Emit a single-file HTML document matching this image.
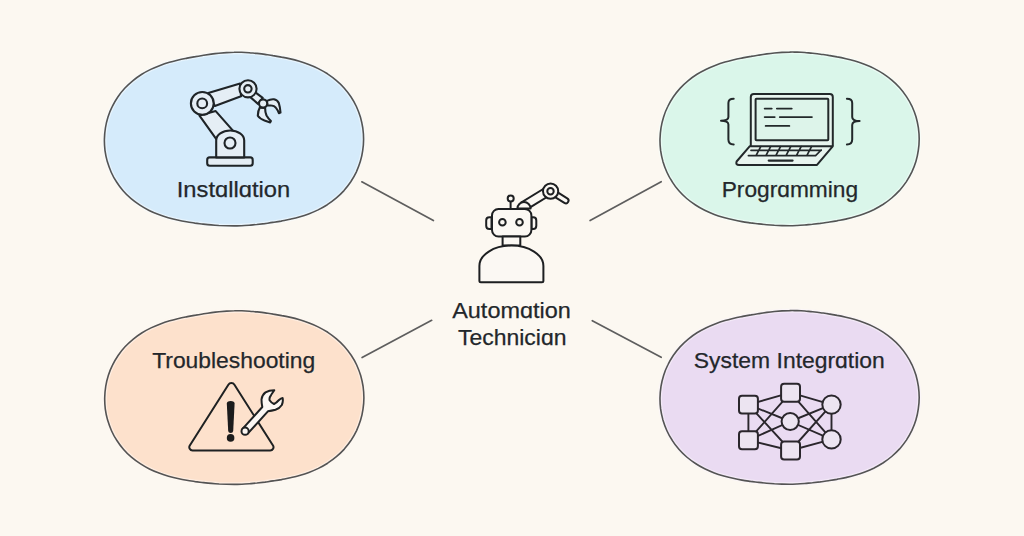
<!DOCTYPE html>
<html><head><meta charset="utf-8"><style>
html,body{margin:0;padding:0;background:#fcf8f1;}
body{width:1024px;height:536px;overflow:hidden;}
svg{display:block;}
text{font-family:"Liberation Sans",sans-serif;fill:#23272b;stroke:#23272b;stroke-width:0.25px;}
</style></head><body>
<svg width="1024" height="536" viewBox="0 0 1024 536">
<rect width="1024" height="536" fill="#fcf8f1"/>
<g stroke="#5e5e5e" stroke-width="1.7" stroke-linecap="round">
<line x1="361.8" y1="181.8" x2="433.4" y2="220.5"/>
<line x1="590.1" y1="220.6" x2="661.2" y2="181.7"/>
<line x1="362.1" y1="357.6" x2="431.7" y2="320.3"/>
<line x1="592.3" y1="320.7" x2="661.2" y2="357.3"/>
</g>
<path d="M104.4,139.3 C104.5,135.5 104.8,131.8 105.4,128.0 C106.0,124.3 106.9,120.6 108.0,117.1 C109.1,113.5 110.5,110.0 112.2,106.7 C113.8,103.3 115.7,100.1 117.8,97.0 C119.9,93.9 122.2,91.0 124.7,88.3 C127.2,85.6 129.9,83.1 132.7,80.8 C135.5,78.5 138.4,76.4 141.4,74.5 C144.4,72.6 147.6,70.9 150.7,69.4 C153.8,67.9 157.0,66.6 160.1,65.4 C163.2,64.2 166.3,63.2 169.4,62.3 C172.5,61.4 175.5,60.7 178.4,60.0 C181.4,59.3 184.3,58.7 187.1,58.1 C189.9,57.5 192.7,57.0 195.4,56.6 C198.1,56.1 200.8,55.7 203.4,55.3 C206.0,54.9 208.6,54.5 211.2,54.1 C213.7,53.8 216.3,53.5 218.8,53.2 C221.4,53.0 223.9,52.8 226.4,52.6 C228.9,52.4 231.5,52.3 234.0,52.3 C236.5,52.2 239.1,52.3 241.6,52.3 C244.2,52.4 246.7,52.6 249.3,52.7 C251.8,52.9 254.4,53.2 257.0,53.4 C259.6,53.7 262.2,54.0 264.9,54.4 C267.6,54.8 270.3,55.1 273.0,55.6 C275.8,56.0 278.6,56.5 281.5,57.1 C284.4,57.6 287.3,58.2 290.3,58.9 C293.3,59.6 296.3,60.4 299.4,61.3 C302.5,62.2 305.7,63.3 308.8,64.5 C312.0,65.7 315.2,67.0 318.3,68.6 C321.4,70.2 324.5,71.9 327.5,73.8 C330.5,75.8 333.4,77.9 336.2,80.3 C339.0,82.6 341.7,85.2 344.1,88.0 C346.5,90.7 348.8,93.7 350.9,96.8 C352.9,99.8 354.8,103.1 356.4,106.5 C357.9,109.9 359.3,113.4 360.4,117.0 C361.4,120.6 362.2,124.3 362.8,128.0 C363.3,131.7 363.6,135.5 363.6,139.3 C363.6,143.1 363.3,146.9 362.7,150.6 C362.2,154.3 361.4,158.0 360.3,161.6 C359.2,165.2 357.8,168.7 356.3,172.1 C354.7,175.4 352.8,178.7 350.8,181.8 C348.7,184.9 346.4,187.8 344.0,190.6 C341.5,193.3 338.8,195.9 336.1,198.2 C333.3,200.6 330.3,202.7 327.3,204.7 C324.3,206.6 321.2,208.3 318.1,209.9 C315.0,211.4 311.8,212.7 308.6,213.9 C305.5,215.1 302.3,216.1 299.2,217.0 C296.1,217.9 293.0,218.6 290.0,219.3 C287.0,220.0 284.1,220.5 281.2,221.1 C278.3,221.6 275.5,222.0 272.8,222.4 C270.0,222.9 267.3,223.2 264.7,223.6 C262.0,223.9 259.4,224.2 256.8,224.5 C254.2,224.7 251.7,225.0 249.1,225.2 C246.6,225.4 244.1,225.6 241.6,225.7 C239.0,225.8 236.5,225.9 234.0,225.9 C231.5,225.9 229.0,225.9 226.4,225.8 C223.9,225.7 221.4,225.6 218.8,225.5 C216.2,225.3 213.7,225.1 211.1,224.9 C208.5,224.7 205.8,224.4 203.1,224.1 C200.5,223.8 197.7,223.4 194.9,223.1 C192.2,222.7 189.3,222.3 186.4,221.8 C183.5,221.3 180.5,220.7 177.5,220.0 C174.4,219.4 171.3,218.6 168.2,217.7 C165.1,216.8 161.8,215.8 158.7,214.6 C155.5,213.4 152.3,212.1 149.1,210.5 C146.0,208.9 142.9,207.2 139.9,205.2 C136.9,203.2 133.9,201.1 131.1,198.7 C128.4,196.3 125.7,193.7 123.3,190.9 C120.9,188.2 118.6,185.2 116.6,182.0 C114.5,178.9 112.7,175.6 111.2,172.2 C109.7,168.8 108.4,165.2 107.3,161.6 C106.3,158.0 105.5,154.3 105.0,150.6 C104.6,146.9 104.3,143.1 104.4,139.3Z" fill="#d5ebfb" stroke="#f6fbff" stroke-width="4.2" stroke-opacity="0.55"/>
<path d="M660.0,139.1 C660.1,135.3 660.4,131.6 661.0,127.8 C661.6,124.1 662.5,120.4 663.6,116.9 C664.7,113.3 666.1,109.8 667.8,106.5 C669.4,103.1 671.3,99.9 673.4,96.8 C675.5,93.7 677.8,90.8 680.3,88.1 C682.8,85.4 685.5,82.9 688.3,80.6 C691.1,78.3 694.0,76.2 697.0,74.3 C700.0,72.4 703.2,70.7 706.3,69.2 C709.4,67.7 712.6,66.4 715.7,65.2 C718.8,64.0 721.9,63.0 725.0,62.1 C728.1,61.2 731.1,60.5 734.0,59.8 C737.0,59.1 739.9,58.5 742.7,57.9 C745.5,57.3 748.3,56.8 751.0,56.4 C753.7,55.9 756.4,55.5 759.0,55.1 C761.6,54.7 764.2,54.3 766.8,53.9 C769.3,53.6 771.9,53.3 774.4,53.0 C777.0,52.8 779.5,52.6 782.0,52.4 C784.5,52.2 787.1,52.1 789.6,52.1 C792.1,52.0 794.7,52.1 797.2,52.1 C799.8,52.2 802.3,52.4 804.9,52.5 C807.4,52.7 810.0,53.0 812.6,53.2 C815.2,53.5 817.8,53.8 820.5,54.2 C823.2,54.6 825.9,54.9 828.6,55.4 C831.4,55.8 834.2,56.3 837.1,56.9 C840.0,57.4 842.9,58.0 845.9,58.7 C848.9,59.4 851.9,60.2 855.0,61.1 C858.1,62.0 861.3,63.1 864.4,64.3 C867.6,65.5 870.8,66.8 873.9,68.4 C877.0,70.0 880.1,71.7 883.1,73.6 C886.1,75.6 889.0,77.7 891.8,80.1 C894.6,82.4 897.3,85.0 899.7,87.8 C902.1,90.5 904.4,93.5 906.5,96.6 C908.5,99.6 910.4,102.9 912.0,106.3 C913.5,109.7 914.9,113.2 916.0,116.8 C917.0,120.4 917.8,124.1 918.4,127.8 C918.9,131.5 919.2,135.3 919.2,139.1 C919.2,142.9 918.9,146.7 918.3,150.4 C917.8,154.1 917.0,157.8 915.9,161.4 C914.8,165.0 913.4,168.5 911.9,171.9 C910.3,175.2 908.4,178.5 906.4,181.6 C904.3,184.7 902.0,187.6 899.6,190.4 C897.1,193.1 894.4,195.7 891.7,198.0 C888.9,200.4 885.9,202.5 882.9,204.5 C879.9,206.4 876.8,208.1 873.7,209.7 C870.6,211.2 867.4,212.5 864.2,213.7 C861.1,214.9 857.9,215.9 854.8,216.8 C851.7,217.7 848.6,218.4 845.6,219.1 C842.6,219.8 839.7,220.3 836.8,220.9 C833.9,221.4 831.1,221.8 828.4,222.2 C825.6,222.7 822.9,223.0 820.3,223.4 C817.6,223.7 815.0,224.0 812.4,224.3 C809.8,224.5 807.3,224.8 804.7,225.0 C802.2,225.2 799.7,225.4 797.2,225.5 C794.6,225.6 792.1,225.7 789.6,225.7 C787.1,225.7 784.6,225.7 782.0,225.6 C779.5,225.5 777.0,225.4 774.4,225.3 C771.8,225.1 769.3,224.9 766.7,224.7 C764.1,224.5 761.4,224.2 758.7,223.9 C756.1,223.6 753.3,223.2 750.5,222.9 C747.8,222.5 744.9,222.1 742.0,221.6 C739.1,221.1 736.1,220.5 733.1,219.8 C730.0,219.2 726.9,218.4 723.8,217.5 C720.7,216.6 717.4,215.6 714.3,214.4 C711.1,213.2 707.9,211.9 704.7,210.3 C701.6,208.7 698.5,207.0 695.5,205.0 C692.5,203.0 689.5,200.9 686.7,198.5 C684.0,196.1 681.3,193.5 678.9,190.7 C676.5,188.0 674.2,185.0 672.2,181.8 C670.1,178.7 668.3,175.4 666.8,172.0 C665.3,168.6 664.0,165.0 662.9,161.4 C661.9,157.8 661.1,154.1 660.6,150.4 C660.2,146.7 659.9,142.9 660.0,139.1Z" fill="#daf6ea" stroke="#f6fffb" stroke-width="4.2" stroke-opacity="0.55"/>
<path d="M104.7,397.8 C104.8,394.0 105.1,390.3 105.7,386.5 C106.3,382.8 107.2,379.1 108.3,375.6 C109.4,372.0 110.8,368.5 112.5,365.2 C114.1,361.8 116.0,358.6 118.1,355.5 C120.2,352.4 122.5,349.5 125.0,346.8 C127.5,344.1 130.2,341.6 133.0,339.3 C135.8,337.0 138.7,334.9 141.7,333.0 C144.7,331.1 147.9,329.4 151.0,327.9 C154.1,326.4 157.3,325.1 160.4,323.9 C163.5,322.7 166.6,321.7 169.7,320.8 C172.8,319.9 175.8,319.2 178.7,318.5 C181.7,317.8 184.6,317.2 187.4,316.6 C190.2,316.0 193.0,315.5 195.7,315.1 C198.4,314.6 201.1,314.2 203.7,313.8 C206.3,313.4 208.9,313.0 211.5,312.6 C214.0,312.3 216.6,312.0 219.1,311.7 C221.7,311.5 224.2,311.3 226.7,311.1 C229.2,310.9 231.8,310.8 234.3,310.8 C236.8,310.7 239.4,310.8 241.9,310.8 C244.5,310.9 247.0,311.1 249.6,311.2 C252.1,311.4 254.7,311.7 257.3,311.9 C259.9,312.2 262.5,312.5 265.2,312.9 C267.9,313.3 270.6,313.6 273.3,314.1 C276.1,314.5 278.9,315.0 281.8,315.6 C284.7,316.1 287.6,316.7 290.6,317.4 C293.6,318.1 296.6,318.9 299.7,319.8 C302.8,320.7 306.0,321.8 309.1,323.0 C312.3,324.2 315.5,325.5 318.6,327.1 C321.7,328.7 324.8,330.4 327.8,332.3 C330.8,334.3 333.7,336.4 336.5,338.8 C339.3,341.1 342.0,343.7 344.4,346.5 C346.8,349.2 349.1,352.2 351.2,355.3 C353.2,358.3 355.1,361.6 356.7,365.0 C358.2,368.4 359.6,371.9 360.7,375.5 C361.7,379.1 362.5,382.8 363.1,386.5 C363.6,390.2 363.9,394.0 363.9,397.8 C363.9,401.6 363.6,405.4 363.0,409.1 C362.5,412.8 361.7,416.5 360.6,420.1 C359.5,423.7 358.1,427.2 356.6,430.6 C355.0,433.9 353.1,437.2 351.1,440.3 C349.0,443.4 346.7,446.3 344.3,449.1 C341.8,451.8 339.1,454.4 336.4,456.7 C333.6,459.1 330.6,461.2 327.6,463.2 C324.6,465.1 321.5,466.8 318.4,468.4 C315.3,469.9 312.1,471.2 308.9,472.4 C305.8,473.6 302.6,474.6 299.5,475.5 C296.4,476.4 293.3,477.1 290.3,477.8 C287.3,478.5 284.4,479.0 281.5,479.6 C278.6,480.1 275.8,480.5 273.1,480.9 C270.3,481.4 267.6,481.7 265.0,482.1 C262.3,482.4 259.7,482.7 257.1,483.0 C254.5,483.2 252.0,483.5 249.4,483.7 C246.9,483.9 244.4,484.1 241.9,484.2 C239.3,484.3 236.8,484.4 234.3,484.4 C231.8,484.4 229.3,484.4 226.7,484.3 C224.2,484.2 221.7,484.1 219.1,484.0 C216.5,483.8 214.0,483.6 211.4,483.4 C208.8,483.2 206.1,482.9 203.4,482.6 C200.8,482.3 198.0,481.9 195.2,481.6 C192.5,481.2 189.6,480.8 186.7,480.3 C183.8,479.8 180.8,479.2 177.8,478.5 C174.7,477.9 171.6,477.1 168.5,476.2 C165.4,475.3 162.1,474.3 159.0,473.1 C155.8,471.9 152.6,470.6 149.4,469.0 C146.3,467.4 143.2,465.7 140.2,463.7 C137.2,461.7 134.2,459.6 131.4,457.2 C128.7,454.8 126.0,452.2 123.6,449.4 C121.2,446.7 118.9,443.7 116.9,440.5 C114.8,437.4 113.0,434.1 111.5,430.7 C110.0,427.3 108.7,423.7 107.6,420.1 C106.6,416.5 105.8,412.8 105.3,409.1 C104.9,405.4 104.6,401.6 104.7,397.8Z" fill="#fde1cc" stroke="#fff8f2" stroke-width="4.2" stroke-opacity="0.55"/>
<path d="M660.0,397.6 C660.1,393.8 660.4,390.1 661.0,386.3 C661.6,382.6 662.5,378.9 663.6,375.4 C664.7,371.8 666.1,368.3 667.8,365.0 C669.4,361.6 671.3,358.4 673.4,355.3 C675.5,352.2 677.8,349.3 680.3,346.6 C682.8,343.9 685.5,341.4 688.3,339.1 C691.1,336.8 694.0,334.7 697.0,332.8 C700.0,330.9 703.2,329.2 706.3,327.7 C709.4,326.2 712.6,324.9 715.7,323.7 C718.8,322.5 721.9,321.5 725.0,320.6 C728.1,319.7 731.1,319.0 734.0,318.3 C737.0,317.6 739.9,317.0 742.7,316.4 C745.5,315.8 748.3,315.3 751.0,314.9 C753.7,314.4 756.4,314.0 759.0,313.6 C761.6,313.2 764.2,312.8 766.8,312.4 C769.3,312.1 771.9,311.8 774.4,311.5 C777.0,311.3 779.5,311.1 782.0,310.9 C784.5,310.7 787.1,310.6 789.6,310.6 C792.1,310.5 794.7,310.6 797.2,310.6 C799.8,310.7 802.3,310.9 804.9,311.0 C807.4,311.2 810.0,311.5 812.6,311.7 C815.2,312.0 817.8,312.3 820.5,312.7 C823.2,313.1 825.9,313.4 828.6,313.9 C831.4,314.3 834.2,314.8 837.1,315.4 C840.0,315.9 842.9,316.5 845.9,317.2 C848.9,317.9 851.9,318.7 855.0,319.6 C858.1,320.5 861.3,321.6 864.4,322.8 C867.6,324.0 870.8,325.3 873.9,326.9 C877.0,328.5 880.1,330.2 883.1,332.1 C886.1,334.1 889.0,336.2 891.8,338.6 C894.6,340.9 897.3,343.5 899.7,346.3 C902.1,349.0 904.4,352.0 906.5,355.1 C908.5,358.1 910.4,361.4 912.0,364.8 C913.5,368.2 914.9,371.7 916.0,375.3 C917.0,378.9 917.8,382.6 918.4,386.3 C918.9,390.0 919.2,393.8 919.2,397.6 C919.2,401.4 918.9,405.2 918.3,408.9 C917.8,412.6 917.0,416.3 915.9,419.9 C914.8,423.5 913.4,427.0 911.9,430.4 C910.3,433.7 908.4,437.0 906.4,440.1 C904.3,443.2 902.0,446.1 899.6,448.9 C897.1,451.6 894.4,454.2 891.7,456.5 C888.9,458.9 885.9,461.0 882.9,463.0 C879.9,464.9 876.8,466.6 873.7,468.2 C870.6,469.7 867.4,471.0 864.2,472.2 C861.1,473.4 857.9,474.4 854.8,475.3 C851.7,476.2 848.6,476.9 845.6,477.6 C842.6,478.3 839.7,478.8 836.8,479.4 C833.9,479.9 831.1,480.3 828.4,480.7 C825.6,481.2 822.9,481.5 820.3,481.9 C817.6,482.2 815.0,482.5 812.4,482.8 C809.8,483.0 807.3,483.3 804.7,483.5 C802.2,483.7 799.7,483.9 797.2,484.0 C794.6,484.1 792.1,484.2 789.6,484.2 C787.1,484.2 784.6,484.2 782.0,484.1 C779.5,484.0 777.0,483.9 774.4,483.8 C771.8,483.6 769.3,483.4 766.7,483.2 C764.1,483.0 761.4,482.7 758.7,482.4 C756.1,482.1 753.3,481.7 750.5,481.4 C747.8,481.0 744.9,480.6 742.0,480.1 C739.1,479.6 736.1,479.0 733.1,478.3 C730.0,477.7 726.9,476.9 723.8,476.0 C720.7,475.1 717.4,474.1 714.3,472.9 C711.1,471.7 707.9,470.4 704.7,468.8 C701.6,467.2 698.5,465.5 695.5,463.5 C692.5,461.5 689.5,459.4 686.7,457.0 C684.0,454.6 681.3,452.0 678.9,449.2 C676.5,446.5 674.2,443.5 672.2,440.3 C670.1,437.2 668.3,433.9 666.8,430.5 C665.3,427.1 664.0,423.5 662.9,419.9 C661.9,416.3 661.1,412.6 660.6,408.9 C660.2,405.2 659.9,401.4 660.0,397.6Z" fill="#eadbf2" stroke="#faf4fc" stroke-width="4.2" stroke-opacity="0.55"/>
<g stroke="#545454" stroke-width="1.6" fill="none">
<path d="M104.4,139.3 C104.5,135.5 104.8,131.8 105.4,128.0 C106.0,124.3 106.9,120.6 108.0,117.1 C109.1,113.5 110.5,110.0 112.2,106.7 C113.8,103.3 115.7,100.1 117.8,97.0 C119.9,93.9 122.2,91.0 124.7,88.3 C127.2,85.6 129.9,83.1 132.7,80.8 C135.5,78.5 138.4,76.4 141.4,74.5 C144.4,72.6 147.6,70.9 150.7,69.4 C153.8,67.9 157.0,66.6 160.1,65.4 C163.2,64.2 166.3,63.2 169.4,62.3 C172.5,61.4 175.5,60.7 178.4,60.0 C181.4,59.3 184.3,58.7 187.1,58.1 C189.9,57.5 192.7,57.0 195.4,56.6 C198.1,56.1 200.8,55.7 203.4,55.3 C206.0,54.9 208.6,54.5 211.2,54.1 C213.7,53.8 216.3,53.5 218.8,53.2 C221.4,53.0 223.9,52.8 226.4,52.6 C228.9,52.4 231.5,52.3 234.0,52.3 C236.5,52.2 239.1,52.3 241.6,52.3 C244.2,52.4 246.7,52.6 249.3,52.7 C251.8,52.9 254.4,53.2 257.0,53.4 C259.6,53.7 262.2,54.0 264.9,54.4 C267.6,54.8 270.3,55.1 273.0,55.6 C275.8,56.0 278.6,56.5 281.5,57.1 C284.4,57.6 287.3,58.2 290.3,58.9 C293.3,59.6 296.3,60.4 299.4,61.3 C302.5,62.2 305.7,63.3 308.8,64.5 C312.0,65.7 315.2,67.0 318.3,68.6 C321.4,70.2 324.5,71.9 327.5,73.8 C330.5,75.8 333.4,77.9 336.2,80.3 C339.0,82.6 341.7,85.2 344.1,88.0 C346.5,90.7 348.8,93.7 350.9,96.8 C352.9,99.8 354.8,103.1 356.4,106.5 C357.9,109.9 359.3,113.4 360.4,117.0 C361.4,120.6 362.2,124.3 362.8,128.0 C363.3,131.7 363.6,135.5 363.6,139.3 C363.6,143.1 363.3,146.9 362.7,150.6 C362.2,154.3 361.4,158.0 360.3,161.6 C359.2,165.2 357.8,168.7 356.3,172.1 C354.7,175.4 352.8,178.7 350.8,181.8 C348.7,184.9 346.4,187.8 344.0,190.6 C341.5,193.3 338.8,195.9 336.1,198.2 C333.3,200.6 330.3,202.7 327.3,204.7 C324.3,206.6 321.2,208.3 318.1,209.9 C315.0,211.4 311.8,212.7 308.6,213.9 C305.5,215.1 302.3,216.1 299.2,217.0 C296.1,217.9 293.0,218.6 290.0,219.3 C287.0,220.0 284.1,220.5 281.2,221.1 C278.3,221.6 275.5,222.0 272.8,222.4 C270.0,222.9 267.3,223.2 264.7,223.6 C262.0,223.9 259.4,224.2 256.8,224.5 C254.2,224.7 251.7,225.0 249.1,225.2 C246.6,225.4 244.1,225.6 241.6,225.7 C239.0,225.8 236.5,225.9 234.0,225.9 C231.5,225.9 229.0,225.9 226.4,225.8 C223.9,225.7 221.4,225.6 218.8,225.5 C216.2,225.3 213.7,225.1 211.1,224.9 C208.5,224.7 205.8,224.4 203.1,224.1 C200.5,223.8 197.7,223.4 194.9,223.1 C192.2,222.7 189.3,222.3 186.4,221.8 C183.5,221.3 180.5,220.7 177.5,220.0 C174.4,219.4 171.3,218.6 168.2,217.7 C165.1,216.8 161.8,215.8 158.7,214.6 C155.5,213.4 152.3,212.1 149.1,210.5 C146.0,208.9 142.9,207.2 139.9,205.2 C136.9,203.2 133.9,201.1 131.1,198.7 C128.4,196.3 125.7,193.7 123.3,190.9 C120.9,188.2 118.6,185.2 116.6,182.0 C114.5,178.9 112.7,175.6 111.2,172.2 C109.7,168.8 108.4,165.2 107.3,161.6 C106.3,158.0 105.5,154.3 105.0,150.6 C104.6,146.9 104.3,143.1 104.4,139.3Z"/>
<path d="M660.0,139.1 C660.1,135.3 660.4,131.6 661.0,127.8 C661.6,124.1 662.5,120.4 663.6,116.9 C664.7,113.3 666.1,109.8 667.8,106.5 C669.4,103.1 671.3,99.9 673.4,96.8 C675.5,93.7 677.8,90.8 680.3,88.1 C682.8,85.4 685.5,82.9 688.3,80.6 C691.1,78.3 694.0,76.2 697.0,74.3 C700.0,72.4 703.2,70.7 706.3,69.2 C709.4,67.7 712.6,66.4 715.7,65.2 C718.8,64.0 721.9,63.0 725.0,62.1 C728.1,61.2 731.1,60.5 734.0,59.8 C737.0,59.1 739.9,58.5 742.7,57.9 C745.5,57.3 748.3,56.8 751.0,56.4 C753.7,55.9 756.4,55.5 759.0,55.1 C761.6,54.7 764.2,54.3 766.8,53.9 C769.3,53.6 771.9,53.3 774.4,53.0 C777.0,52.8 779.5,52.6 782.0,52.4 C784.5,52.2 787.1,52.1 789.6,52.1 C792.1,52.0 794.7,52.1 797.2,52.1 C799.8,52.2 802.3,52.4 804.9,52.5 C807.4,52.7 810.0,53.0 812.6,53.2 C815.2,53.5 817.8,53.8 820.5,54.2 C823.2,54.6 825.9,54.9 828.6,55.4 C831.4,55.8 834.2,56.3 837.1,56.9 C840.0,57.4 842.9,58.0 845.9,58.7 C848.9,59.4 851.9,60.2 855.0,61.1 C858.1,62.0 861.3,63.1 864.4,64.3 C867.6,65.5 870.8,66.8 873.9,68.4 C877.0,70.0 880.1,71.7 883.1,73.6 C886.1,75.6 889.0,77.7 891.8,80.1 C894.6,82.4 897.3,85.0 899.7,87.8 C902.1,90.5 904.4,93.5 906.5,96.6 C908.5,99.6 910.4,102.9 912.0,106.3 C913.5,109.7 914.9,113.2 916.0,116.8 C917.0,120.4 917.8,124.1 918.4,127.8 C918.9,131.5 919.2,135.3 919.2,139.1 C919.2,142.9 918.9,146.7 918.3,150.4 C917.8,154.1 917.0,157.8 915.9,161.4 C914.8,165.0 913.4,168.5 911.9,171.9 C910.3,175.2 908.4,178.5 906.4,181.6 C904.3,184.7 902.0,187.6 899.6,190.4 C897.1,193.1 894.4,195.7 891.7,198.0 C888.9,200.4 885.9,202.5 882.9,204.5 C879.9,206.4 876.8,208.1 873.7,209.7 C870.6,211.2 867.4,212.5 864.2,213.7 C861.1,214.9 857.9,215.9 854.8,216.8 C851.7,217.7 848.6,218.4 845.6,219.1 C842.6,219.8 839.7,220.3 836.8,220.9 C833.9,221.4 831.1,221.8 828.4,222.2 C825.6,222.7 822.9,223.0 820.3,223.4 C817.6,223.7 815.0,224.0 812.4,224.3 C809.8,224.5 807.3,224.8 804.7,225.0 C802.2,225.2 799.7,225.4 797.2,225.5 C794.6,225.6 792.1,225.7 789.6,225.7 C787.1,225.7 784.6,225.7 782.0,225.6 C779.5,225.5 777.0,225.4 774.4,225.3 C771.8,225.1 769.3,224.9 766.7,224.7 C764.1,224.5 761.4,224.2 758.7,223.9 C756.1,223.6 753.3,223.2 750.5,222.9 C747.8,222.5 744.9,222.1 742.0,221.6 C739.1,221.1 736.1,220.5 733.1,219.8 C730.0,219.2 726.9,218.4 723.8,217.5 C720.7,216.6 717.4,215.6 714.3,214.4 C711.1,213.2 707.9,211.9 704.7,210.3 C701.6,208.7 698.5,207.0 695.5,205.0 C692.5,203.0 689.5,200.9 686.7,198.5 C684.0,196.1 681.3,193.5 678.9,190.7 C676.5,188.0 674.2,185.0 672.2,181.8 C670.1,178.7 668.3,175.4 666.8,172.0 C665.3,168.6 664.0,165.0 662.9,161.4 C661.9,157.8 661.1,154.1 660.6,150.4 C660.2,146.7 659.9,142.9 660.0,139.1Z"/>
<path d="M104.7,397.8 C104.8,394.0 105.1,390.3 105.7,386.5 C106.3,382.8 107.2,379.1 108.3,375.6 C109.4,372.0 110.8,368.5 112.5,365.2 C114.1,361.8 116.0,358.6 118.1,355.5 C120.2,352.4 122.5,349.5 125.0,346.8 C127.5,344.1 130.2,341.6 133.0,339.3 C135.8,337.0 138.7,334.9 141.7,333.0 C144.7,331.1 147.9,329.4 151.0,327.9 C154.1,326.4 157.3,325.1 160.4,323.9 C163.5,322.7 166.6,321.7 169.7,320.8 C172.8,319.9 175.8,319.2 178.7,318.5 C181.7,317.8 184.6,317.2 187.4,316.6 C190.2,316.0 193.0,315.5 195.7,315.1 C198.4,314.6 201.1,314.2 203.7,313.8 C206.3,313.4 208.9,313.0 211.5,312.6 C214.0,312.3 216.6,312.0 219.1,311.7 C221.7,311.5 224.2,311.3 226.7,311.1 C229.2,310.9 231.8,310.8 234.3,310.8 C236.8,310.7 239.4,310.8 241.9,310.8 C244.5,310.9 247.0,311.1 249.6,311.2 C252.1,311.4 254.7,311.7 257.3,311.9 C259.9,312.2 262.5,312.5 265.2,312.9 C267.9,313.3 270.6,313.6 273.3,314.1 C276.1,314.5 278.9,315.0 281.8,315.6 C284.7,316.1 287.6,316.7 290.6,317.4 C293.6,318.1 296.6,318.9 299.7,319.8 C302.8,320.7 306.0,321.8 309.1,323.0 C312.3,324.2 315.5,325.5 318.6,327.1 C321.7,328.7 324.8,330.4 327.8,332.3 C330.8,334.3 333.7,336.4 336.5,338.8 C339.3,341.1 342.0,343.7 344.4,346.5 C346.8,349.2 349.1,352.2 351.2,355.3 C353.2,358.3 355.1,361.6 356.7,365.0 C358.2,368.4 359.6,371.9 360.7,375.5 C361.7,379.1 362.5,382.8 363.1,386.5 C363.6,390.2 363.9,394.0 363.9,397.8 C363.9,401.6 363.6,405.4 363.0,409.1 C362.5,412.8 361.7,416.5 360.6,420.1 C359.5,423.7 358.1,427.2 356.6,430.6 C355.0,433.9 353.1,437.2 351.1,440.3 C349.0,443.4 346.7,446.3 344.3,449.1 C341.8,451.8 339.1,454.4 336.4,456.7 C333.6,459.1 330.6,461.2 327.6,463.2 C324.6,465.1 321.5,466.8 318.4,468.4 C315.3,469.9 312.1,471.2 308.9,472.4 C305.8,473.6 302.6,474.6 299.5,475.5 C296.4,476.4 293.3,477.1 290.3,477.8 C287.3,478.5 284.4,479.0 281.5,479.6 C278.6,480.1 275.8,480.5 273.1,480.9 C270.3,481.4 267.6,481.7 265.0,482.1 C262.3,482.4 259.7,482.7 257.1,483.0 C254.5,483.2 252.0,483.5 249.4,483.7 C246.9,483.9 244.4,484.1 241.9,484.2 C239.3,484.3 236.8,484.4 234.3,484.4 C231.8,484.4 229.3,484.4 226.7,484.3 C224.2,484.2 221.7,484.1 219.1,484.0 C216.5,483.8 214.0,483.6 211.4,483.4 C208.8,483.2 206.1,482.9 203.4,482.6 C200.8,482.3 198.0,481.9 195.2,481.6 C192.5,481.2 189.6,480.8 186.7,480.3 C183.8,479.8 180.8,479.2 177.8,478.5 C174.7,477.9 171.6,477.1 168.5,476.2 C165.4,475.3 162.1,474.3 159.0,473.1 C155.8,471.9 152.6,470.6 149.4,469.0 C146.3,467.4 143.2,465.7 140.2,463.7 C137.2,461.7 134.2,459.6 131.4,457.2 C128.7,454.8 126.0,452.2 123.6,449.4 C121.2,446.7 118.9,443.7 116.9,440.5 C114.8,437.4 113.0,434.1 111.5,430.7 C110.0,427.3 108.7,423.7 107.6,420.1 C106.6,416.5 105.8,412.8 105.3,409.1 C104.9,405.4 104.6,401.6 104.7,397.8Z"/>
<path d="M660.0,397.6 C660.1,393.8 660.4,390.1 661.0,386.3 C661.6,382.6 662.5,378.9 663.6,375.4 C664.7,371.8 666.1,368.3 667.8,365.0 C669.4,361.6 671.3,358.4 673.4,355.3 C675.5,352.2 677.8,349.3 680.3,346.6 C682.8,343.9 685.5,341.4 688.3,339.1 C691.1,336.8 694.0,334.7 697.0,332.8 C700.0,330.9 703.2,329.2 706.3,327.7 C709.4,326.2 712.6,324.9 715.7,323.7 C718.8,322.5 721.9,321.5 725.0,320.6 C728.1,319.7 731.1,319.0 734.0,318.3 C737.0,317.6 739.9,317.0 742.7,316.4 C745.5,315.8 748.3,315.3 751.0,314.9 C753.7,314.4 756.4,314.0 759.0,313.6 C761.6,313.2 764.2,312.8 766.8,312.4 C769.3,312.1 771.9,311.8 774.4,311.5 C777.0,311.3 779.5,311.1 782.0,310.9 C784.5,310.7 787.1,310.6 789.6,310.6 C792.1,310.5 794.7,310.6 797.2,310.6 C799.8,310.7 802.3,310.9 804.9,311.0 C807.4,311.2 810.0,311.5 812.6,311.7 C815.2,312.0 817.8,312.3 820.5,312.7 C823.2,313.1 825.9,313.4 828.6,313.9 C831.4,314.3 834.2,314.8 837.1,315.4 C840.0,315.9 842.9,316.5 845.9,317.2 C848.9,317.9 851.9,318.7 855.0,319.6 C858.1,320.5 861.3,321.6 864.4,322.8 C867.6,324.0 870.8,325.3 873.9,326.9 C877.0,328.5 880.1,330.2 883.1,332.1 C886.1,334.1 889.0,336.2 891.8,338.6 C894.6,340.9 897.3,343.5 899.7,346.3 C902.1,349.0 904.4,352.0 906.5,355.1 C908.5,358.1 910.4,361.4 912.0,364.8 C913.5,368.2 914.9,371.7 916.0,375.3 C917.0,378.9 917.8,382.6 918.4,386.3 C918.9,390.0 919.2,393.8 919.2,397.6 C919.2,401.4 918.9,405.2 918.3,408.9 C917.8,412.6 917.0,416.3 915.9,419.9 C914.8,423.5 913.4,427.0 911.9,430.4 C910.3,433.7 908.4,437.0 906.4,440.1 C904.3,443.2 902.0,446.1 899.6,448.9 C897.1,451.6 894.4,454.2 891.7,456.5 C888.9,458.9 885.9,461.0 882.9,463.0 C879.9,464.9 876.8,466.6 873.7,468.2 C870.6,469.7 867.4,471.0 864.2,472.2 C861.1,473.4 857.9,474.4 854.8,475.3 C851.7,476.2 848.6,476.9 845.6,477.6 C842.6,478.3 839.7,478.8 836.8,479.4 C833.9,479.9 831.1,480.3 828.4,480.7 C825.6,481.2 822.9,481.5 820.3,481.9 C817.6,482.2 815.0,482.5 812.4,482.8 C809.8,483.0 807.3,483.3 804.7,483.5 C802.2,483.7 799.7,483.9 797.2,484.0 C794.6,484.1 792.1,484.2 789.6,484.2 C787.1,484.2 784.6,484.2 782.0,484.1 C779.5,484.0 777.0,483.9 774.4,483.8 C771.8,483.6 769.3,483.4 766.7,483.2 C764.1,483.0 761.4,482.7 758.7,482.4 C756.1,482.1 753.3,481.7 750.5,481.4 C747.8,481.0 744.9,480.6 742.0,480.1 C739.1,479.6 736.1,479.0 733.1,478.3 C730.0,477.7 726.9,476.9 723.8,476.0 C720.7,475.1 717.4,474.1 714.3,472.9 C711.1,471.7 707.9,470.4 704.7,468.8 C701.6,467.2 698.5,465.5 695.5,463.5 C692.5,461.5 689.5,459.4 686.7,457.0 C684.0,454.6 681.3,452.0 678.9,449.2 C676.5,446.5 674.2,443.5 672.2,440.3 C670.1,437.2 668.3,433.9 666.8,430.5 C665.3,427.1 664.0,423.5 662.9,419.9 C661.9,416.3 661.1,412.6 660.6,408.9 C660.2,405.2 659.9,401.4 660.0,397.6Z"/>
</g>
<g font-size="22.8">
<text x="233.5" y="197.3" text-anchor="middle" textLength="113.5" lengthAdjust="spacingAndGlyphs">Inst&#x251;ll&#x251;tion</text>
<text x="789.9" y="196.9" text-anchor="middle" textLength="136.4" lengthAdjust="spacingAndGlyphs">Progr&#x251;mming</text>
<text x="233.7" y="368.2" text-anchor="middle" textLength="163" lengthAdjust="spacingAndGlyphs">Troubleshooting</text>
<text x="789.3" y="368.1" text-anchor="middle" textLength="191" lengthAdjust="spacingAndGlyphs">System Integr&#x251;tion</text>
<text x="511.5" y="317.8" text-anchor="middle" textLength="118.6" lengthAdjust="spacingAndGlyphs">Autom&#x251;tion</text>
<text x="512.2" y="345.4" text-anchor="middle" textLength="108.4" lengthAdjust="spacingAndGlyphs">Technici&#x251;n</text>
</g>
<!-- Installation robot arm -->
<g fill="#e5eef5" stroke="#1f2427" stroke-width="2.1" stroke-linejoin="round" stroke-linecap="round">
 <path d="M199.5,115.6 L216.3,139.1 L232.5,130.1 L215.7,111.1 Z"/>
 <path d="M208.3,92.9 L240.1,83.6 L241,96.2 L214.9,106 Z"/>
 <path d="M254.7,91.8 L262.7,97.9 L258,103.9 L250.1,96.9 Z"/>
 <path d="M266.9,100.9 Q270.5,99 273.9,99.3 Q277.4,99.9 278.8,103 Q280.1,107 280.5,112.6 L278.9,113.2 Q277.5,109.6 275.8,107.6 Q274.3,105.5 271.5,105.5 L267.5,105.4 Z"/>
 <path d="M259.9,107.4 Q258,110.5 257.8,115.8 Q259.5,118.6 264.5,120.5 L270.2,122.4 L270.9,121 Q268.2,118.4 266.5,115.5 Q265.1,112.2 265.1,107.9 Z"/>
 <rect x="207.2" y="157.4" width="45.5" height="8.4" rx="2.5"/>
 <path d="M216.2,157.4 V140.5 A14,10 0 0 1 244.2,140.5 V157.4 Z"/>
 <circle cx="230" cy="143" r="5.5"/>
 <circle cx="202.3" cy="103.4" r="11.4"/>
 <circle cx="202.2" cy="103.4" r="4.9"/>
 <circle cx="248" cy="88.8" r="8.6"/>
 <circle cx="247.9" cy="88.8" r="3.7"/>
 <circle cx="263.1" cy="103.5" r="4.1"/>
</g>
<!-- Programming laptop -->
<g fill="none" stroke="#22282a" stroke-width="2" stroke-linecap="round" stroke-linejoin="round">
 <path d="M733.7,98.7 Q728.4,98.7 728.4,103 V117 Q728.4,120.8 721,120.8 Q728.4,120.8 728.4,124.6 V139.5 Q728.4,144.4 733.7,144.4"/>
 <path d="M846.9,98.7 Q852.2,98.7 852.2,103 V117 Q852.2,121.1 859.6,121.1 Q852.2,121.1 852.2,125 V139.5 Q852.2,144.4 846.9,144.4"/>
 <path d="M750.8,145.5 V97 Q750.8,94 753.8,94 H829.8 Q832.8,94 832.8,97 V145.5" fill="#e8f5ef"/>
 <rect x="755.6" y="98.7" width="72.7" height="41.6" rx="0.8" fill="#ddf4ea"/>
 <path d="M749.6,146.3 H832.7 L817,164.9 H739 Q735.5,164.9 736.6,161.5 Z" fill="#e8f5ef"/>
 <path d="M764.7,108.6 H771.7 M776.9,108.6 H791.7 M764.7,117.1 H774.7 M779.8,117.1 H811.9 M765.7,125.9 H789.3" stroke-width="1.9"/>
 <path d="M768.7,160.6 H792.6" stroke-width="2.1"/>
</g>
<g fill="none" stroke="#22282a" stroke-width="1.7" stroke-linecap="round">
 <path d="M751,150.3 H821.2 M748.4,155.6 H815.6 L821.2,150 M756.0,155.6 L760.7,146.6 M765.9,155.6 L770.6,146.6 M775.8,155.6 L780.5,146.6 M786.0,155.6 L790.7,146.6 M796.4,155.6 L801.1,146.6 M806.8,155.6 L811.5,146.6"/>
</g>
<!-- Troubleshooting -->
<g fill="none" stroke="#1e2122" stroke-width="2" stroke-linejoin="round">
 <path d="M234.44,384.70 L272.99,445.59 A3.20,3.20 0 0 1 270.29,450.50 L192.51,450.50 A3.20,3.20 0 0 1 189.81,445.59 L228.36,384.70 A3.60,3.60 0 0 1 234.44,384.70 Z"/>
</g>
<path d="M226.8,403.5 Q226.8,401 230.7,401 Q234.6,401 234.6,403.5 L233.2,431 Q233,433 230.7,433 Q228.4,433 228.2,431 Z" fill="#1c1c1c"/>
<circle cx="230.6" cy="437.9" r="3.8" fill="#1c1c1c"/>
<g fill="#fbf7f3" stroke="#1e2122" stroke-width="2" stroke-linejoin="round">
 <path d="M242.5,428.8 L262.3,407 Q261.5,403.5 261.5,399.5 Q262,395 265.5,392.4 Q269,390.3 274.3,390.3 L271.2,394.8 Q269,397.6 269.6,400.2 Q271.5,403 274,404 Q276.5,402.8 279,400 Q281,398 282.6,397.9 Q283.4,401.5 281.8,405 Q279.5,408.5 275.5,409.8 Q271.5,410.8 267.9,411.3 L247.7,433.6 Z"/>
 <circle cx="245.1" cy="431.2" r="3.6"/>
</g>
<!-- System integration -->
<g stroke="#2a262c" stroke-width="1.9" fill="none">
 <path d="M748.4,404.6 L790.5,392.7 M748.4,404.6 L790.2,421.5 M748.4,404.6 L790.5,450.5
          M748.4,440.2 L790.5,392.7 M748.4,440.2 L790.2,421.5 M748.4,440.2 L790.5,450.5
          M748.4,404.6 V440.2 M831.5,404.6 V439.4
          M790.5,392.7 L831.5,404.6 M790.5,392.7 L831.5,439.4
          M790.2,421.5 L831.5,404.6 M790.2,421.5 L831.5,439.4
          M790.5,450.5 L831.5,404.6 M790.5,450.5 L831.5,439.4"/>
</g>
<g stroke="#2a262c" stroke-width="2" fill="#ece4f1">
 <rect x="739" y="395.7" width="18.9" height="17.9" rx="3"/>
 <rect x="739" y="431.3" width="18.9" height="17.9" rx="3"/>
 <rect x="781.1" y="383.8" width="18.9" height="17.9" rx="3"/>
 <rect x="781.1" y="441.6" width="18.9" height="17.9" rx="3"/>
 <circle cx="790.2" cy="421.5" r="8.6"/>
 <circle cx="831.5" cy="404.6" r="9.2"/>
 <circle cx="831.5" cy="439.4" r="9.2"/>
</g>
<!-- Central robot -->
<g fill="#fbf8f3" stroke="#1d1f21" stroke-width="2" stroke-linejoin="round" stroke-linecap="round">
 <line x1="523" y1="206.6" x2="550" y2="190" stroke-width="10.8" stroke-linecap="butt"/>
 <line x1="522" y1="207.2" x2="550" y2="190" stroke-width="6.8" stroke="#fbf8f3" stroke-linecap="butt"/>
 <path d="M517.4,208.6 A6.6,6.6 0 0 1 530.6,208.6 Z"/>
 <line x1="552" y1="192" x2="565.8" y2="200.6" stroke-width="7.4"/>
 <line x1="552" y1="192" x2="565.8" y2="200.6" stroke-width="3.4" stroke="#fbf8f3"/>
 <circle cx="550.6" cy="191.2" r="7.6"/>
 <circle cx="550.5" cy="191.2" r="3.2"/>
 <line x1="510.6" y1="201.5" x2="510.6" y2="209"/>
 <circle cx="510.7" cy="198.4" r="3"/>
 <path d="M491.5,217.2 V229 H489.4 Q486.2,229 486.2,225.8 V220.4 Q486.2,217.2 489.4,217.2 Z"/>
 <path d="M531.5,217.2 V229 H533.2 Q536.3,229 536.3,225.8 V220.4 Q536.3,217.2 533.2,217.2 Z"/>
 <rect x="492" y="209" width="39.4" height="27.5" rx="6.5"/>
 <circle cx="502.4" cy="222.2" r="3.3"/>
 <circle cx="519.5" cy="222.2" r="3.3"/>
 <rect x="502.6" y="236.5" width="17.7" height="9.1"/>
 <path d="M479.4,280.7 V266 A32,20.4 0 0 1 543.4,266 V280.7 Q543.4,282.2 541.9,282.2 H480.9 Q479.4,282.2 479.4,280.7 Z"/>
</g>

</svg>
</body></html>
